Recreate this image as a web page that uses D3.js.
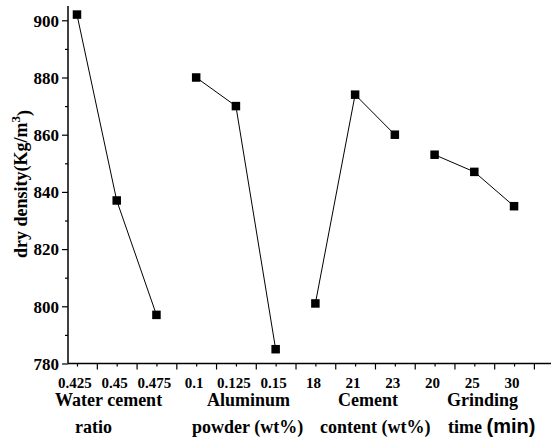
<!DOCTYPE html>
<html>
<head>
<meta charset="utf-8">
<script src="https://cdn.jsdelivr.net/npm/d3@7"></script>
<style>
  html, body { margin: 0; padding: 0; background: #fff; }
  svg { display: block; }
</style>
</head>
<body>
<svg id="chart" width="551" height="438"></svg>
<script>
// ---- data ----
const groups = ["Water cement ratio", "Aluminum powder (wt%)", "Cement content (wt%)", "Grinding time (min)"];
const levelLabels = [
  ["0.425", "0.45", "0.475"],
  ["0.1", "0.125", "0.15"],
  ["18", "21", "23"],
  ["20", "25", "30"]
];
const dryDensity = [
  [902, 837, 797],
  [880, 870, 785],
  [801, 874, 860],
  [853, 847, 835]
];
const yTicks = [780, 800, 820, 840, 860, 880, 900];

const SERIF = "'Liberation Serif', 'Times New Roman', Times, 'DejaVu Serif', serif";
const SANS = "'Liberation Sans', Arial, sans-serif";

// ---- layout ----
const svg = d3.select("#chart");
const x = d3.scaleLinear().domain([0.774, 12.93]).range([68, 551]);
const y = d3.scaleLinear().domain([780, 905]).range([363.5, 6]);

const pts = [];
dryDensity.forEach((g, gi) => g.forEach((v, li) => pts.push({g: gi, idx: gi * 3 + li + 1, v, label: levelLabels[gi][li]})));

// Axes
const yAxis = d3.axisLeft(y).tickValues(yTicks).tickSize(6).tickPadding(3).tickFormat(d3.format("d"));
const yMinor = d3.axisLeft(y).tickValues(d3.range(790, 905, 20)).tickSize(3).tickFormat("");
const gy = svg.append("g").attr("transform", "translate(68,0)").call(yAxis);
svg.append("g").attr("transform", "translate(68,0)").call(yMinor).select(".domain").remove();
gy.select(".domain").attr("d", `M0,${y(905)}V${y(780)}`);
gy.selectAll("text")
  .style("font-family", SERIF).style("font-weight", "bold").style("font-size", "17px")
  .attr("fill", "#000").attr("dy", "0.34em");

const majorX = d3.range(1.5, 12.6, 1);
const minorX = d3.range(1, 12.1, 1);
const gx = svg.append("g").attr("transform", "translate(0,363.5)")
  .call(d3.axisBottom(x).tickValues(majorX).tickSize(6).tickFormat(""));
gx.select(".domain").attr("d", `M68,0H551`);
svg.append("g").attr("transform", "translate(0,363.5)")
  .call(d3.axisBottom(x).tickValues(minorX).tickSize(3).tickFormat(""))
  .select(".domain").remove();
svg.selectAll(".domain").attr("stroke", "#000").attr("stroke-width", 1.5);
svg.selectAll(".tick line").attr("stroke", "#000").attr("stroke-width", 1.2);

// x tick labels
svg.append("g").selectAll("text").data(pts).join("text")
  .attr("x", d => x(d.idx) - 2).attr("y", 388)
  .attr("text-anchor", "middle")
  .style("font-family", SERIF).style("font-weight", "bold").style("font-size", "15px")
  .text(d => d.label);

// group titles (two lines)
const titleLines = [
  [{t: "Water cement", x: 55}, {t: "ratio", x: 75}],
  [{t: "Aluminum", x: 207}, {t: "powder (wt%)", x: 192}],
  [{t: "Cement", x: 338}, {t: "content (wt%)", x: 320}],
  [{t: "Grinding", x: 447}, {t: "time ", x: 448, extra: "(min)"}]
];
titleLines.forEach(lines => {
  svg.append("text").attr("x", lines[0].x).attr("y", 406)
    .style("font-family", SERIF).style("font-weight", "bold").style("font-size", "18px")
    .text(lines[0].t);
  const t2 = svg.append("text").attr("x", lines[1].x).attr("y", 433)
    .style("font-family", SERIF).style("font-weight", "bold").style("font-size", "18px");
  t2.append("tspan").text(lines[1].t);
  if (lines[1].extra) {
    t2.append("tspan").style("font-family", SANS).style("font-size", "20px").text(lines[1].extra);
  }
});

// y axis title
const yt = svg.append("text")
  .attr("transform", "translate(27,184) rotate(-90)")
  .attr("text-anchor", "middle")
  .style("font-family", SERIF).style("font-weight", "bold").style("font-size", "18px");
yt.append("tspan").text("dry density(Kg/m");
yt.append("tspan").attr("dy", "-0.55em").style("font-size", "13px").text("3");
yt.append("tspan").attr("dy", "0.55em").text(")");

// lines per group
const line = d3.line().x(d => x(d.idx)).y(d => y(d.v));
d3.range(groups.length).forEach(gi => {
  svg.append("path").datum(pts.filter(p => p.g === gi))
    .attr("d", line).attr("fill", "none").attr("stroke", "#000").attr("stroke-width", 1);
});

// markers
const s = 8.5;
svg.append("g").selectAll("rect").data(pts).join("rect")
  .attr("x", d => x(d.idx) - s / 2).attr("y", d => y(d.v) - s / 2)
  .attr("width", s).attr("height", s).attr("fill", "#000");
</script>
</body>
</html>
